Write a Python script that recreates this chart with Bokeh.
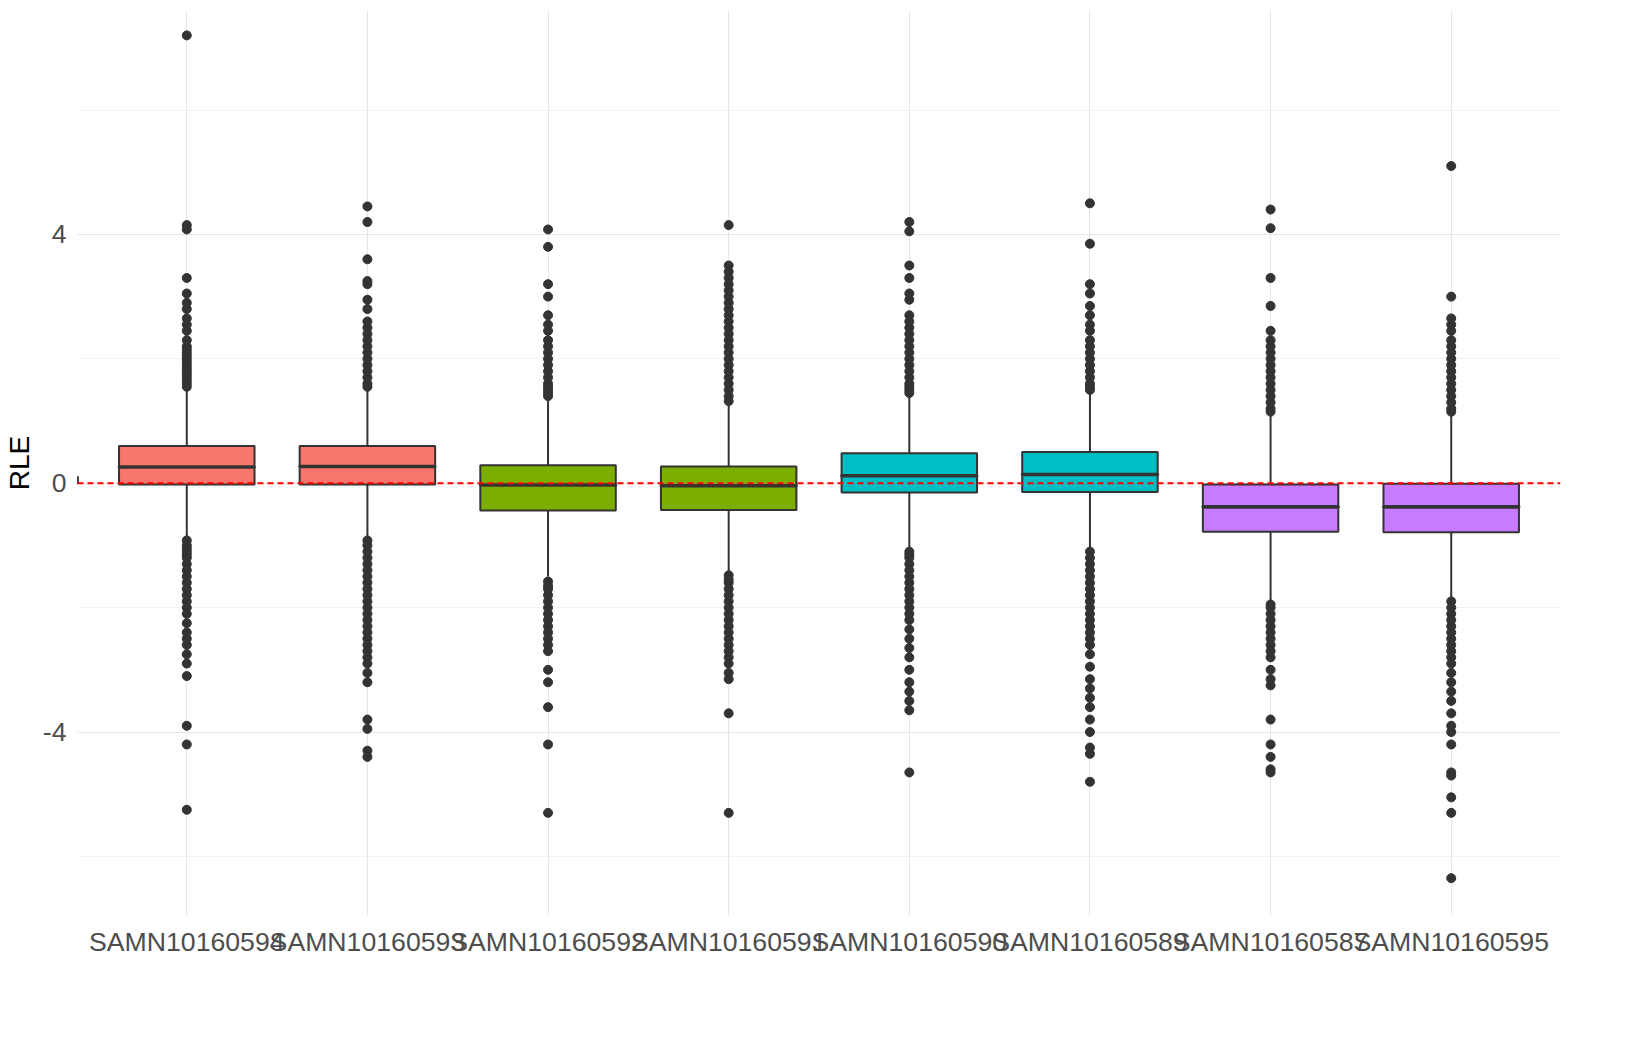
from bokeh.plotting import figure
from bokeh.models import ColumnDataSource, FixedTicker, Span, Legend, LegendItem
from bokeh.embed import file_html
from bokeh.resources import INLINE

samples = ["SAMN10160594", "SAMN10160593", "SAMN10160592", "SAMN10160591",
           "SAMN10160590", "SAMN10160589", "SAMN10160587", "SAMN10160595"]
groups = ["HeLa.control.KD.DMSO.24hr", "HeLa.control.KD.DMSO.24hr",
          "HeLa.control.KD.etoposide.50uM.24hr", "HeLa.control.KD.etoposide.50uM.24hr",
          "HeLa.TLP.KD.DMSO.24hr", "HeLa.TLP.KD.DMSO.24hr",
          "HeLa.TLP.KD.etoposide.50uM.24hr", "HeLa.TLP.KD.etoposide.50uM.24hr"]
group_names = ["HeLa.control.KD.DMSO.24hr", "HeLa.control.KD.etoposide.50uM.24hr",
               "HeLa.TLP.KD.DMSO.24hr", "HeLa.TLP.KD.etoposide.50uM.24hr"]
group_colors = ["#F8766D", "#7CAE00", "#00BFC4", "#C77CFF"]
y_ticks = [-4, 0, 4]
y_tick_labels = ["-4", "0", "4"]

q1 = [-0.02, -0.02, -0.44, -0.43, -0.15, -0.14, -0.78, -0.79]
med = [0.26, 0.27, -0.03, -0.04, 0.12, 0.14, -0.38, -0.38]
q3 = [0.60, 0.60, 0.29, 0.27, 0.48, 0.50, -0.02, -0.01]
wlo = [-0.88, -0.88, -1.50, -1.45, -1.05, -1.05, -1.90, -1.90]
whi = [1.52, 1.52, 1.35, 1.30, 1.42, 1.45, 1.10, 1.10]

outliers = [
    [1.55, 1.6, 1.65, 1.7, 1.75, 1.8, 1.85, 1.9, 1.95, 2.0, 2.05, 2.1, 2.15, 2.2, 2.3, 2.45, 2.55, 2.65, 2.8, 2.9, 3.05, 3.3, 4.08, 4.15, 7.2,
     -0.92, -1.0, -1.05, -1.1, -1.15, -1.2, -1.3, -1.4, -1.5, -1.6, -1.7, -1.8, -1.9, -2.0, -2.1, -2.25, -2.4, -2.5, -2.6, -2.75, -2.9, -3.1, -3.9, -4.2, -5.25],
    [1.55, 1.6, 1.7, 1.8, 1.9, 2.0, 2.1, 2.2, 2.3, 2.4, 2.5, 2.6, 2.8, 2.95, 3.2, 3.25, 3.6, 4.2, 4.45,
     -0.92, -1.0, -1.1, -1.2, -1.3, -1.4, -1.5, -1.6, -1.7, -1.8, -1.9, -2.0, -2.1, -2.2, -2.3, -2.4, -2.5, -2.6, -2.7, -2.8, -2.9, -3.05, -3.2, -3.8, -3.95, -4.3, -4.4],
    [1.4, 1.45, 1.5, 1.55, 1.6, 1.7, 1.8, 1.9, 2.0, 2.1, 2.2, 2.3, 2.45, 2.55, 2.7, 3.0, 3.2, 3.8, 4.08,
     -1.58, -1.65, -1.7, -1.8, -1.9, -2.0, -2.1, -2.2, -2.3, -2.4, -2.5, -2.6, -2.7, -3.0, -3.2, -3.6, -4.2, -5.3],
    [1.32, 1.4, 1.5, 1.6, 1.7, 1.8, 1.9, 2.0, 2.1, 2.2, 2.3, 2.4, 2.5, 2.6, 2.7, 2.8, 2.9, 3.0, 3.1, 3.2, 3.3, 3.4, 3.5, 4.15,
     -1.48, -1.55, -1.6, -1.7, -1.8, -1.9, -2.0, -2.1, -2.2, -2.3, -2.4, -2.5, -2.6, -2.7, -2.8, -2.9, -3.05, -3.15, -3.7, -5.3],
    [1.45, 1.5, 1.55, 1.6, 1.7, 1.8, 1.9, 2.0, 2.1, 2.2, 2.3, 2.4, 2.5, 2.6, 2.7, 2.95, 3.05, 3.3, 3.5, 4.05, 4.2,
     -1.1, -1.15, -1.2, -1.3, -1.4, -1.5, -1.6, -1.7, -1.8, -1.9, -2.0, -2.1, -2.2, -2.35, -2.5, -2.65, -2.8, -3.0, -3.2, -3.35, -3.5, -3.65, -4.65],
    [1.5, 1.55, 1.6, 1.7, 1.8, 1.9, 2.0, 2.1, 2.2, 2.3, 2.45, 2.55, 2.7, 2.85, 3.05, 3.2, 3.85, 4.5,
     -1.1, -1.2, -1.3, -1.4, -1.5, -1.6, -1.7, -1.8, -1.9, -2.0, -2.1, -2.2, -2.3, -2.4, -2.5, -2.6, -2.75, -2.95, -3.15, -3.3, -3.45, -3.6, -3.8, -4.0, -4.25, -4.35, -4.8],
    [1.15, 1.2, 1.3, 1.4, 1.5, 1.6, 1.7, 1.8, 1.9, 2.0, 2.1, 2.2, 2.3, 2.45, 2.85, 3.3, 4.1, 4.4,
     -1.95, -2.0, -2.1, -2.2, -2.3, -2.4, -2.5, -2.6, -2.7, -2.8, -3.0, -3.15, -3.25, -3.8, -4.2, -4.4, -4.6, -4.65],
    [1.15, 1.2, 1.3, 1.4, 1.5, 1.6, 1.7, 1.8, 1.9, 2.0, 2.1, 2.2, 2.3, 2.45, 2.55, 2.65, 3.0, 5.1,
     -1.9, -2.0, -2.1, -2.2, -2.3, -2.4, -2.5, -2.6, -2.7, -2.8, -2.9, -3.05, -3.2, -3.35, -3.5, -3.7, -3.9, -4.0, -4.2, -4.65, -4.7, -5.05, -5.3, -6.35],
]

xs = list(range(1, len(samples) + 1))
colors = [group_colors[group_names.index(g)] for g in groups]

p = figure(width=1568, height=985, output_backend="svg", toolbar_location=None,
           x_range=(0.395, 8.605), y_range=(-6.95, 7.6),
           min_border_left=40, min_border_right=8, min_border_top=10, min_border_bottom=70)
p.outline_line_color = None
p.background_fill_color = "white"

src = ColumnDataSource(dict(x=xs, q1=q1, q3=q3, med=med, wlo=wlo, whi=whi, color=colors, grp=groups))

p.segment(x0="x", x1="x", y0="q3", y1="whi", source=src, line_color="#333333", line_width=2)
p.segment(x0="x", x1="x", y0="wlo", y1="q1", source=src, line_color="#333333", line_width=2)
p.vbar(x="x", width=0.75, bottom="q1", top="q3", source=src, fill_color="color",
       line_color="#333333", line_width=2)
p.rect(x="x", y="med", width=0.75, height=0.001, source=src, line_color="#333333", line_width=3.5, fill_alpha=0)

ox, oy = [], []
for i, vals in enumerate(outliers):
    ox += [xs[i]] * len(vals)
    oy += vals
p.scatter(ox, oy, size=9, color="#333333")

p.add_layout(Span(location=0, dimension="width", line_color="red", line_dash="6 4", line_width=2))

items = []
for g, c in zip(group_names, group_colors):
    r = p.vbar(x=[-10], width=0.1, bottom=[0], top=[0.1], fill_color=c, line_color="#333333", line_width=2)
    items.append(LegendItem(label=g, renderers=[r]))
leg = Legend(items=items, orientation="horizontal", location=(-95, -118),
             label_text_font_size="18pt", label_text_font="Liberation Sans",
             label_text_color="#1a1a1a", border_line_color=None, background_fill_alpha=0,
             spacing=22, glyph_width=26, glyph_height=24, padding=4, margin=0)
p.add_layout(leg, "center")

p.xaxis.ticker = FixedTicker(ticks=xs)
p.xaxis.major_label_overrides = {x: s for x, s in zip(xs, samples)}
p.yaxis.ticker = FixedTicker(ticks=y_ticks, minor_ticks=[-6, -2, 2, 6])
p.yaxis.major_label_overrides = {t: s for t, s in zip(y_ticks, y_tick_labels)}
p.yaxis.axis_label = "RLE"
for ax in (p.xaxis, p.yaxis):
    ax.axis_line_color = None
    ax.major_tick_line_color = None
    ax.minor_tick_line_color = None
    ax.major_label_text_font = "Liberation Sans"
    ax.major_label_text_font_size = "20pt"
    ax.major_label_text_color = "#4d4d4d"
p.yaxis.axis_label_text_font = "Liberation Sans"
p.yaxis.axis_label_text_font_size = "21pt"
p.yaxis.axis_label_text_font_style = "normal"
p.yaxis.axis_label_text_color = "black"
p.xgrid.grid_line_color = "#e6e6e6"
p.ygrid.grid_line_color = "#e6e6e6"
p.ygrid.minor_grid_line_color = "#f2f2f2"

open("out.html", "w").write(file_html(p, INLINE))
